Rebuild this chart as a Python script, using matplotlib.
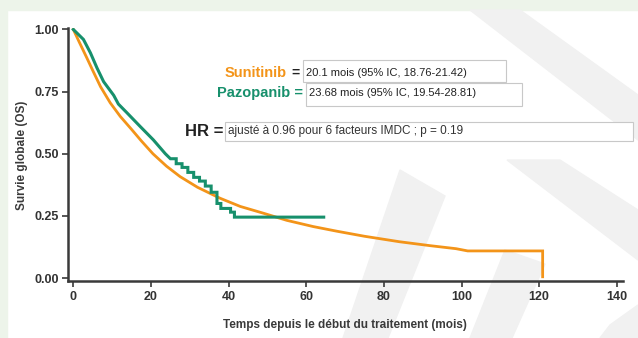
import matplotlib
matplotlib.use('Agg')
import matplotlib.pyplot as plt
from matplotlib.patches import Rectangle, Polygon

# data (months, survival)
suni_t = [0, 1.5, 3.5, 5, 7, 9.5, 12.1, 15, 17.5, 20.5, 24, 27.5, 32, 37.8, 43, 48.9,
          55, 61.8, 68, 75, 84, 92, 98.6, 101.6, 120.9, 120.9]
suni_s = [1.0, 0.95, 0.885, 0.835, 0.77, 0.705, 0.65, 0.598, 0.552, 0.50, 0.45, 0.408,
          0.365, 0.321, 0.288, 0.261, 0.232, 0.207, 0.188, 0.168, 0.146, 0.13, 0.118,
          0.109, 0.109, 0.005]

pazo_t = [0, 2.6, 4.4, 6.1, 7.8, 10.4, 11.6, 13.8, 17.2, 20.6, 23.7, 25, 26.5, 26.5, 28, 28,
          29.5, 29.5, 31, 31, 32.5, 32.5, 34, 34, 35.5, 35.5, 37, 37, 38, 38, 40.5, 40.5,
          41.5, 41.5, 64.5]
pazo_s = [1.0, 0.96, 0.906, 0.845, 0.79, 0.735, 0.7, 0.665, 0.61, 0.556, 0.5, 0.48, 0.48, 0.46,
          0.46, 0.445, 0.445, 0.425, 0.425, 0.405, 0.405, 0.39, 0.39, 0.37, 0.37, 0.345, 0.345,
          0.30, 0.30, 0.28, 0.28, 0.265, 0.265, 0.245, 0.245]

xticks = [0, 20, 40, 60, 80, 100, 120, 140]
yticks = [0.0, 0.25, 0.50, 0.75, 1.00]
ytick_labels = ['0.00', '0.25', '0.50', '0.75', '1.00']

ORANGE = '#f39419'
GREEN = '#17906c'
plt.rcParams['font.family'] = ['Liberation Sans', 'DejaVu Sans']

W, H = 638, 338
fig = plt.figure(figsize=(W / 100, H / 100), dpi=100)


def fx(px):
	return px / W


def fy(py):
	return 1 - py / H


# light green frame of the page
fig.patches.append(Rectangle((0, fy(10)), 1, 10 / H, transform=fig.transFigure,
                             color='#edf4ea', zorder=-10))
fig.patches.append(Rectangle((0, 0), fx(7), 1, transform=fig.transFigure,
                             color='#edf4ea', zorder=-10))

# faint watermark bands
bands = [
	[(400, 170), (445, 196), (388, 338), (343, 338)],
	[(507, 160), (560, 160), (638, 210), (638, 260)],
	[(505, 250), (545, 264), (512, 338), (470, 338)],
	[(470, 10), (520, 10), (638, 95), (638, 140)],
	[(610, 325), (638, 305), (638, 338), (600, 338)],
]
for b in bands:
	fig.patches.append(Polygon([(fx(x), fy(y)) for x, y in b], closed=True,
	                           transform=fig.transFigure, color='#f1f1f1', zorder=-5))

ax = fig.add_axes([fx(68.3), fy(281), fx(623) - fx(68.3), (281 - 28) / H])
ax.patch.set_alpha(0)
ax.plot(suni_t, suni_s, color=ORANGE, lw=2.0, solid_joinstyle='miter')
ax.plot(pazo_t, pazo_s, color=GREEN, lw=2.2, solid_joinstyle='miter')

ax.set_xlim(-1.3, 141.6)
ax.set_ylim(-0.012, 1.006)
ax.set_xticks(xticks)
ax.set_yticks(yticks)
ax.set_yticklabels(ytick_labels)
for s in ['top', 'right']:
	ax.spines[s].set_visible(False)
for s in ['left', 'bottom']:
	ax.spines[s].set_linewidth(1.8)
	ax.spines[s].set_color('#3a3a3a')
ax.tick_params(length=4, width=1.2, color='#3a3a3a', labelsize=9, labelcolor='#333333', pad=3)
for lab in ax.get_xticklabels() + ax.get_yticklabels():
	lab.set_fontweight('bold')

fig.text(fx(22), fy(155), 'Survie globale (OS)', rotation=90, ha='center', va='center',
         fontsize=8.5, fontweight='bold', color='#3a3a3a')
fig.text(fx(345), fy(325), 'Temps depuis le début du traitement (mois)', ha='center',
         va='center', fontsize=8.5, fontweight='bold', color='#3a3a3a')

# annotation boxes
boxes = [(303, 60, 506, 82), (306, 83, 522, 106), (225, 122, 633, 141)]
for x0, y0, x1, y1 in boxes:
	fig.patches.append(Rectangle((fx(x0), fy(y1)), fx(x1) - fx(x0), (y1 - y0) / H,
	                             transform=fig.transFigure, facecolor='white',
	                             edgecolor='#c8c8c8', lw=0.8, zorder=1))

fig.text(fx(287), fy(73), 'Sunitinib', color=ORANGE, fontsize=10.5, ha='right', va='center',
         fontweight='bold')
fig.text(fx(295), fy(73), '=', color='#222222', fontsize=10, ha='center', va='center',
         fontweight='bold')
fig.text(fx(306), fy(73), '20.1 mois (95% IC, 18.76-21.42)', fontsize=8, va='center',
         color='#222222', zorder=3)
fig.text(fx(303), fy(93), 'Pazopanib =', color=GREEN, fontsize=10.5, ha='right', va='center',
         fontweight='bold')
fig.text(fx(309), fy(93), '23.68 mois (95% IC, 19.54-28.81)', fontsize=8, va='center',
         color='#222222', zorder=3)
fig.text(fx(223), fy(131), 'HR =', color='#222222', fontsize=12, ha='right', va='center',
         fontweight='bold')
fig.text(fx(228), fy(131), 'ajusté à 0.96 pour 6 facteurs IMDC ; p = 0.19', fontsize=8.5,
         va='center', color='#333333', zorder=3)

fig.savefig('out.png', dpi=100)
